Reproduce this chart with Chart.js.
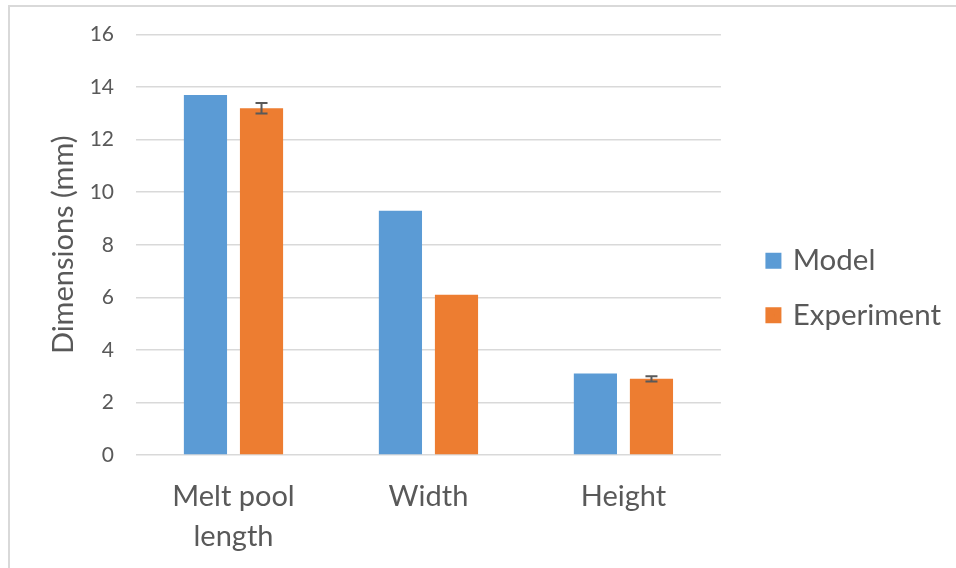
<!DOCTYPE html>
<html>
<head>
<meta charset="utf-8">
<script src="https://cdn.jsdelivr.net/npm/chart.js@4.4.1/dist/chart.umd.min.js"></script>
<style>
  html, body { margin: 0; padding: 0; background: #fff; }
  #wrap { position: relative; width: 956px; height: 568px; overflow: hidden; }
  #frame { position: absolute; left: 8px; top: 5px; width: 1000px; height: 600px; border: 2px solid #d9d9d9; box-sizing: border-box; pointer-events: none; }
  canvas { position: absolute; left: 0; top: 0; }
</style>
</head>
<body>
<div id="wrap">
  <canvas id="c" width="956" height="568"></canvas>
  <div id="frame"></div>
</div>
<script>
const categories = [['Melt pool', 'length'], 'Width', 'Height'];
const seriesNames = ['Model', 'Experiment'];
const modelValues = [13.7, 9.3, 3.1];
const experimentValues = [13.2, 6.1, 2.9];
const experimentErrors = [0.2, null, 0.1];
const yTicks = { min: 0, max: 16, step: 2 };

const FONT = 'Lato, "Open Sans", sans-serif';
const TEXT = '#595959';

const errorBars = {
  id: 'errorBars',
  afterDatasetsDraw(chart) {
    const ctx = chart.ctx;
    const meta = chart.getDatasetMeta(1);
    const y = chart.scales.y;
    ctx.save();
    ctx.strokeStyle = '#595959';
    ctx.lineWidth = 2;
    meta.data.forEach((bar, i) => {
      const e = experimentErrors[i];
      if (e == null) return;
      const v = experimentValues[i];
      const yTop = y.getPixelForValue(v + e);
      const yBot = y.getPixelForValue(v - e);
      const x = bar.x;
      ctx.beginPath();
      ctx.moveTo(x, yTop); ctx.lineTo(x, yBot);
      ctx.moveTo(x - 6, yTop); ctx.lineTo(x + 6, yTop);
      ctx.moveTo(x - 6, yBot); ctx.lineTo(x + 6, yBot);
      ctx.stroke();
    });
    ctx.restore();
  }
};

const legendShift = {
  id: 'legendShift',
  afterLayout(chart) {
    const l = chart.legend;
    if (!l) return;
    l.left += 23; l.right += 23;
    l.top -= 7; l.bottom -= 7;
  }
};

new Chart(document.getElementById('c'), {
  type: 'bar',
  data: {
    labels: categories,
    datasets: [
      { label: seriesNames[0], data: modelValues, backgroundColor: '#5b9bd5', categoryPercentage: 0.575, barPercentage: 0.77 },
      { label: seriesNames[1], data: experimentValues, backgroundColor: '#ed7d31', categoryPercentage: 0.575, barPercentage: 0.77 }
    ]
  },
  options: {
    responsive: false,
    animation: false,
    layout: { padding: { left: 46, top: 22, right: 28, bottom: 0 } },
    plugins: {
      tooltip: { enabled: false },
      legend: {
        position: 'right',
        labels: {
          boxWidth: 9, boxHeight: 9, padding: 25,
          color: TEXT, font: { family: FONT, size: 29.5 },
          generateLabels(chart) {
            const items = Chart.defaults.plugins.legend.labels.generateLabels(chart);
            return items.map(it => Object.assign(it, { lineWidth: 7, strokeStyle: it.fillStyle, lineJoin: 'miter' }));
          }
        }
      }
    },
    scales: {
      x: {
        grid: { display: false, drawTicks: false },
        border: { display: false },
        ticks: { color: TEXT, font: { family: FONT, size: 29, lineHeight: 1.38 }, padding: 22, maxRotation: 0 },
        afterFit(scale) { scale.height = 113; }
      },
      y: {
        min: yTicks.min, max: yTicks.max,
        ticks: { stepSize: yTicks.step, color: TEXT, font: { family: FONT, size: 21 }, padding: 22 },
        grid: { color: '#d9d9d9', lineWidth: 1.5, drawTicks: false },
        border: { display: false },
        title: { display: true, text: 'Dimensions (mm)', color: TEXT, font: { family: FONT, size: 29 }, padding: 0 },
        afterFit(scale) { scale.width = 90; }
      }
    }
  },
  plugins: [errorBars, legendShift]
});
</script>
</body>
</html>
